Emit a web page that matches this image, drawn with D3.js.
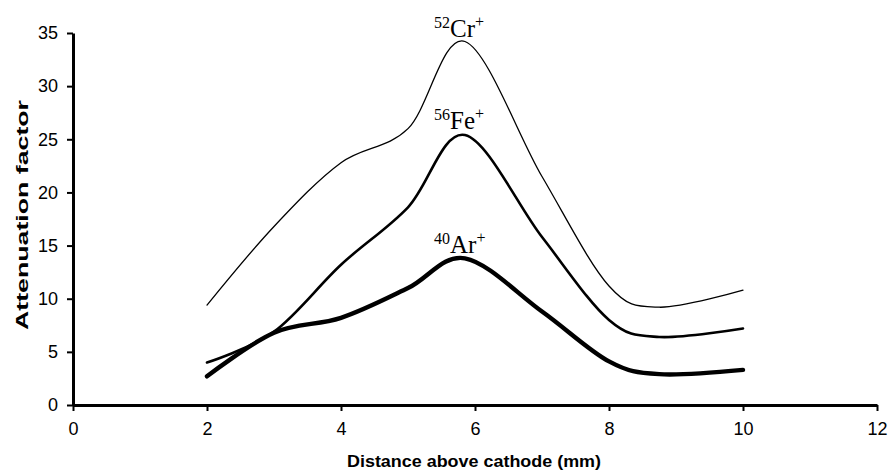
<!DOCTYPE html>
<html>
<head>
<meta charset="utf-8">
<script src="https://cdn.jsdelivr.net/npm/d3@7"></script>
<style>
  body{margin:0;background:#fff;}
  svg{display:block;}
  .tick text{font-family:"Liberation Sans",Arial,sans-serif;font-size:18px;fill:#000;}
  .title{font-family:"Liberation Sans",Arial,sans-serif;font-weight:bold;}
  .ion{font-family:"Liberation Serif","Times New Roman",serif;font-size:25px;}
</style>
</head>
<body>
<svg id="chart" width="888" height="474"></svg>
<script>
// distance above cathode (mm)
const distance = [2, 3, 4, 5, 5.85, 7, 8, 8.75, 10];
// attenuation factors
const cr52 = [9.4, 16.8, 22.8, 26.0, 34.2, 21.5, 11.2, 9.2, 10.8];
const fe56 = [4.0, 6.9, 13.2, 18.6, 25.4, 15.8, 8.0, 6.4, 7.2];
const ar40 = [2.7, 6.8, 8.2, 11.0, 13.8, 8.8, 4.1, 2.9, 3.3];
const xTicks = [0, 2, 4, 6, 8, 10, 12];
const yTicks = [0, 5, 10, 15, 20, 25, 30, 35];

const series = [
  { mass:"52", el:"Cr", values:cr52, width:1.3, lx:434, ly:37 },
  { mass:"56", el:"Fe", values:fe56, width:2.6, lx:434, ly:129 },
  { mass:"40", el:"Ar", values:ar40, width:4.4, lx:434, ly:253 }
];

const svg = d3.select("#chart");
const x = d3.scaleLinear().domain([0, 12]).range([73, 877]);
const y = d3.scaleLinear().domain([0, 35]).range([405, 33]);

const line = d3.line()
  .x((d,i)=> x(distance[i])).y(d=> y(d))
  .curve(d3.curveCardinal.tension(0));

series.forEach(s=>{
  svg.append("path").attr("d", line(s.values))
    .attr("fill","none").attr("stroke","#000")
    .attr("stroke-width", s.width).attr("stroke-linecap","round").attr("stroke-linejoin","round");
  const t = svg.append("text").attr("class","ion").attr("x", s.lx).attr("y", s.ly);
  t.append("tspan").attr("font-size", 16).attr("dy", -9).text(s.mass);
  t.append("tspan").attr("dy", 9).text(s.el);
  t.append("tspan").attr("font-size", 16).attr("dy", -10).text("+");
});

// axes
const xAxis = svg.append("g").attr("transform", `translate(0,405)`)
  .call(d3.axisBottom(x).tickValues(xTicks).tickSize(6).tickPadding(11).tickSizeOuter(0));
const yAxis = svg.append("g").attr("transform", `translate(73,0)`)
  .call(d3.axisLeft(y).tickValues(yTicks).tickSize(6).tickPadding(9).tickSizeOuter(0));
[xAxis, yAxis].forEach(a=>{
  a.select(".domain").attr("stroke","#000").attr("stroke-width",3);
  a.selectAll(".tick line").attr("stroke","#000").attr("stroke-width",2);
});

svg.append("text").attr("class","title")
  .attr("x", 474).attr("y", 467).attr("text-anchor","middle")
  .attr("font-size", 16).attr("textLength", 254).attr("lengthAdjust","spacingAndGlyphs")
  .text("Distance above cathode (mm)");
svg.append("text").attr("class","title")
  .attr("transform","translate(28,215) rotate(-90)").attr("text-anchor","middle")
  .attr("font-size", 17).attr("textLength", 230).attr("lengthAdjust","spacingAndGlyphs")
  .text("Attenuation factor");
</script>
</body>
</html>
